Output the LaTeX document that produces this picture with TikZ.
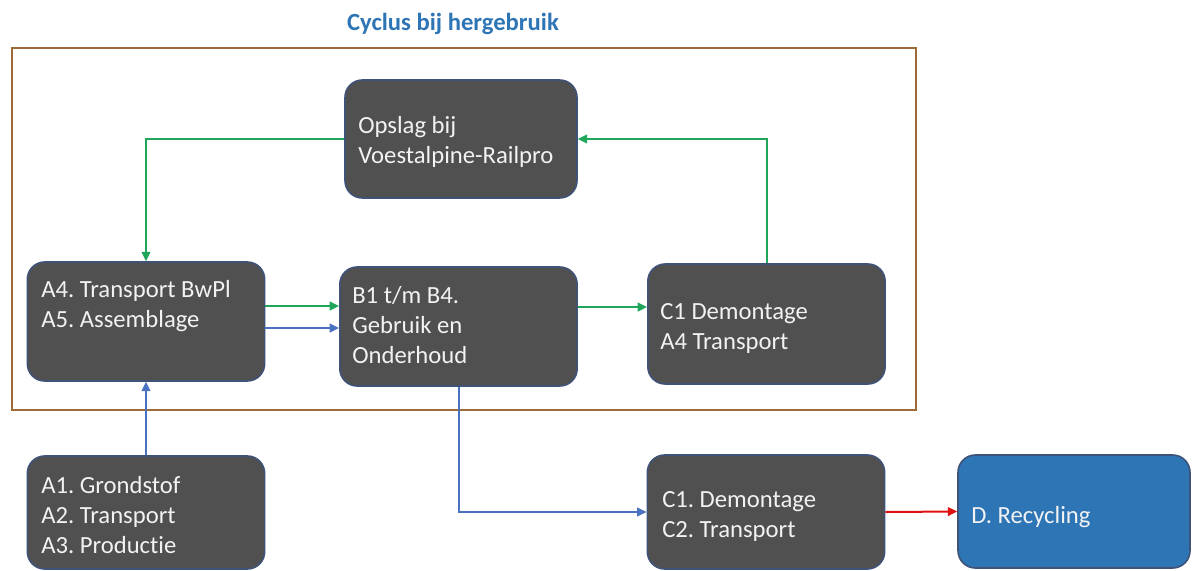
\documentclass[tikz,border=0pt]{standalone}
\usepackage{fontspec}
\setmainfont{Carlito}[Ligatures=NoCommon]
\usetikzlibrary{arrows.meta}
\definecolor{boxfill}{HTML}{505050}
\definecolor{boxline}{HTML}{3F5378}
\definecolor{framebrown}{HTML}{9E6A38}
\definecolor{titleblue}{HTML}{2E75B6}
\definecolor{recblue}{HTML}{2E75B6}
\definecolor{arrgreen}{HTML}{1FA65A}
\definecolor{arrblue}{HTML}{4A72C0}
\definecolor{arrred}{HTML}{E01010}
\definecolor{txt}{HTML}{F2F2F2}
\frenchspacing
\begin{document}
\begin{tikzpicture}[x=0.75pt,y=-0.75pt,
  box/.style={draw=boxline, line width=1.2pt, fill=boxfill, rounded corners=13pt, inner sep=0pt, minimum width=178pt},
  recbox/.style={box, fill=recblue, draw=boxline},
  lbl/.style={anchor=base west, inner sep=0pt, text=txt, font=\frenchspacing\fontsize{18.5}{22.5}\selectfont, align=left},
  conn/.style={line width=1.5pt, -{Triangle[length=7pt,width=6.5pt]}},
  garr/.style={conn, draw=arrgreen, color=arrgreen},
  barr/.style={conn, draw=arrblue, color=arrblue},
  rarr/.style={conn, draw=arrred, color=arrred}]
\useasboundingbox (0,0) rectangle (1192,571);

% title and frame
\node[anchor=base, inner sep=0pt, text=titleblue, font=\bfseries\fontsize{18.5}{22}\selectfont] (title) at (453,30) {Cyclus bij hergebruik};
\draw[framebrown, line width=1.7pt] (12,48) rectangle (916,410);

% boxes
\node[box, minimum width=174pt, minimum height=88.5pt] (ops) at (461,139) {};
\node[box, minimum height=89.25pt] (a4) at (146,321.5) {};
\node[box, minimum height=89.25pt] (b1) at (458.5,326.5) {};
\node[box, minimum height=90pt] (c1d) at (766.5,324) {};
\node[box, minimum height=84.75pt] (a1) at (146,512.5) {};
\node[box, minimum height=85.5pt] (c1e) at (766,512) {};
\node[recbox, minimum width=174pt, minimum height=84.75pt] (rec) at (1074,511.5) {};

% texts (anchor = baseline of last line)
\node[lbl] (tops) at (358,163) {Opslag bij\\Voestalpine-Railpro};
\node[lbl] (ta4) at (41,327) {A4. Transport BwPl\\A5. Assemblage};
\node[lbl] (tb1) at (352,363) {B1 t/m B4.\\Gebruik en\\Onderhoud};
\node[lbl] (tc1d) at (660,349) {C1 Demontage\\A4 Transport};
\node[lbl] (ta1) at (41,553) {A1. Grondstof\\A2. Transport\\A3. Productie};
\node[lbl] (tc1e) at (662,537) {C1. Demontage\\C2. Transport};
\node[lbl] (trec) at (971,523) {D. Recycling};

% connectors
\draw[garr] (ops.west) -| (a4.north);
\draw[garr] (c1d.north) |- (ops.east);
\coordinate (g1) at ([yshift=11.6pt]a4.east);
\coordinate (b1s) at ([yshift=-4.9pt]a4.east);
\coordinate (g2) at ([yshift=14.6pt]b1.east);
\draw[garr] (g1) -- (g1 -| b1.west);
\draw[barr] (b1s) -- (b1s -| b1.west);
\draw[garr] (g2) -- (g2 -| c1d.west);
\draw[barr] (a1.north) -- (a4.south);
\draw[barr] (b1.south) |- (c1e.west);
\draw[rarr] (c1e.east) -- (rec.west);
\end{tikzpicture}
\end{document}
